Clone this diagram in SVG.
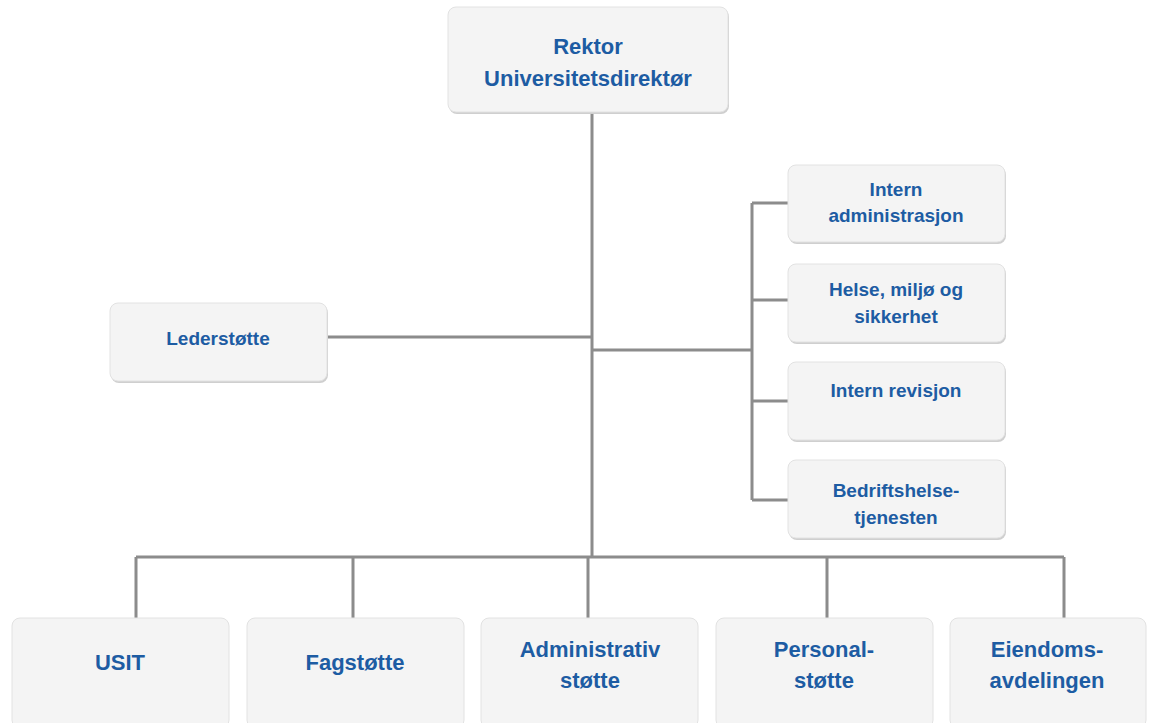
<svg xmlns="http://www.w3.org/2000/svg" width="1153" height="723" viewBox="0 0 1153 723">
<style>
.box{fill:#f4f4f4;stroke:#e2e2e2;stroke-width:1}
.sh{fill:#cfcfcf}
.t{font-family:"Liberation Sans",Arial,sans-serif;font-weight:bold;fill:#1d5ca3;text-anchor:middle}
.big{font-size:22px}
.sm{font-size:19px}
.ln{stroke:#8c8c8c;stroke-width:3;fill:none}
</style>
<rect width="1153" height="723" fill="#ffffff"/>
<g id="connectors">
<path class="ln" d="M592 112 V557"/>
<path class="ln" d="M327 337 H592"/>
<path class="ln" d="M592 350 H752"/>
<path class="ln" d="M752 203 V500"/>
<path class="ln" d="M752 203 H788 M752 300 H788 M752 401 H788 M752 500 H788"/>
<path class="ln" d="M136 557 H1064"/>
<path class="ln" d="M136 557 V618 M353 557 V618 M588 557 V618 M827 557 V618 M1064 557 V618"/>
</g>
<g id="rektor">
<rect class="sh" x="449" y="9" width="280" height="105" rx="8"/>
<rect class="box" x="448" y="7" width="280" height="105" rx="8"/>
<text class="t big" x="588" y="54">Rektor</text>
<text class="t big" x="588" y="86">Universitetsdirektør</text>
</g>
<g id="lederstotte">
<rect class="sh" x="111" y="305" width="217" height="78" rx="8"/>
<rect class="box" x="110" y="303" width="217" height="78" rx="8"/>
<text class="t sm" x="218" y="345">Lederstøtte</text>
</g>
<g id="intern-administrasjon">
<rect class="sh" x="789" y="167" width="217" height="77" rx="8"/>
<rect class="box" x="788" y="165" width="217" height="77" rx="8"/>
<text class="t sm" x="896" y="196">Intern</text>
<text class="t sm" x="896" y="222">administrasjon</text>
</g>
<g id="hms">
<rect class="sh" x="789" y="266" width="217" height="78" rx="8"/>
<rect class="box" x="788" y="264" width="217" height="78" rx="8"/>
<text class="t sm" x="896" y="296">Helse, miljø og</text>
<text class="t sm" x="896" y="323">sikkerhet</text>
</g>
<g id="intern-revisjon">
<rect class="sh" x="789" y="364" width="217" height="78" rx="8"/>
<rect class="box" x="788" y="362" width="217" height="78" rx="8"/>
<text class="t sm" x="896" y="397">Intern revisjon</text>
</g>
<g id="bedriftshelsetjenesten">
<rect class="sh" x="789" y="462" width="217" height="78" rx="8"/>
<rect class="box" x="788" y="460" width="217" height="78" rx="8"/>
<text class="t sm" x="896" y="497">Bedriftshelse-</text>
<text class="t sm" x="896" y="524">tjenesten</text>
</g>
<g id="usit">
<rect class="box" x="12" y="618" width="217" height="110" rx="8"/>
<text class="t big" x="120" y="670">USIT</text>
</g>
<g id="fagstotte">
<rect class="box" x="247" y="618" width="217" height="110" rx="8"/>
<text class="t big" x="355" y="670">Fagstøtte</text>
</g>
<g id="administrativ-stotte">
<rect class="box" x="481" y="618" width="217" height="110" rx="8"/>
<text class="t big" x="590" y="657">Administrativ</text>
<text class="t big" x="590" y="688">støtte</text>
</g>
<g id="personalstotte">
<rect class="box" x="716" y="618" width="217" height="110" rx="8"/>
<text class="t big" x="824" y="657">Personal-</text>
<text class="t big" x="824" y="688">støtte</text>
</g>
<g id="eiendomsavdelingen">
<rect class="box" x="950" y="618" width="196" height="110" rx="8"/>
<text class="t big" x="1047" y="657">Eiendoms-</text>
<text class="t big" x="1047" y="688">avdelingen</text>
</g>
</svg>
